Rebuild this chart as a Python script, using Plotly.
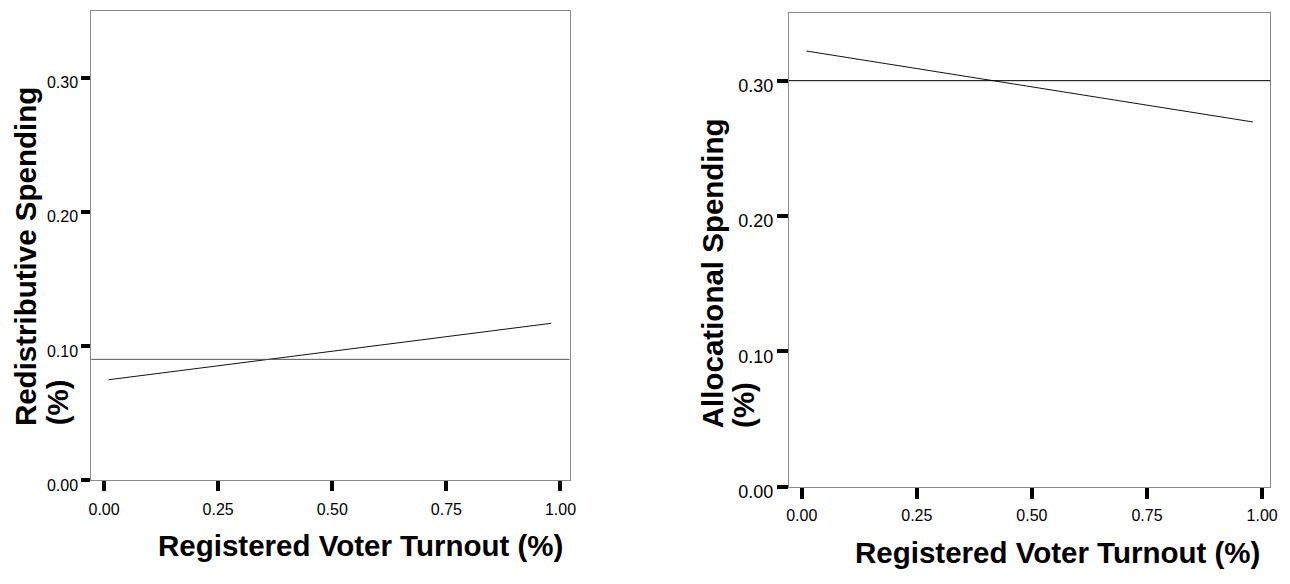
import plotly.graph_objects as go

W, H = 1290, 584

# ---- data ----
turnout = [0.01, 0.10, 0.20, 0.30, 0.40, 0.50, 0.60, 0.70, 0.80, 0.90, 0.98]
redistributive = [0.0748, 0.0787, 0.0830, 0.0874, 0.0917, 0.0961, 0.1004, 0.1047, 0.1091, 0.1134, 0.1169]
allocational = [0.3219, 0.3171, 0.3117, 0.3062, 0.3008, 0.2954, 0.2900, 0.2846, 0.2792, 0.2738, 0.2695]
redistributive_mean = 0.09
allocational_mean = 0.30
x_ticks = [0.0, 0.25, 0.5, 0.75, 1.0]
x_tick_labels = ["0.00", "0.25", "0.50", "0.75", "1.00"]
y_ticks = [0.0, 0.1, 0.2, 0.3]
y_tick_labels = ["0.00", "0.10", "0.20", "0.30"]
x_title = "Registered Voter Turnout (%)"
y_title_left = ["Redistributive Spending", "(%)"]
y_title_right = ["Allocational Spending", "(%)"]

FONT = "Arial, 'Liberation Sans', sans-serif"

def px_x(p):
    return p / W

def px_y(p):
    return 1 - p / H

fig = go.Figure()

fig.add_trace(go.Scatter(x=turnout, y=redistributive, mode="lines",
                         line=dict(color="#111111", width=1), xaxis="x", yaxis="y",
                         showlegend=False, hoverinfo="skip"))
fig.add_trace(go.Scatter(x=turnout, y=allocational, mode="lines",
                         line=dict(color="#111111", width=1), xaxis="x2", yaxis="y2",
                         showlegend=False, hoverinfo="skip"))

common_x = dict(tickvals=x_ticks, ticktext=x_tick_labels, ticks="outside", tickwidth=4,
                tickcolor="black", showline=True, linecolor="#8a8a8a", linewidth=1,
                mirror=True, showgrid=False, zeroline=False,
                tickfont=dict(family=FONT, size=16, color="black"))
common_y = dict(tickvals=y_ticks, ticktext=y_tick_labels, ticks="outside", tickwidth=4,
                tickcolor="black", showline=True, linecolor="#8a8a8a", linewidth=1,
                mirror=True, showgrid=False, zeroline=False, ticklabelshift=5)

fig.update_layout(
    width=W, height=H, margin=dict(l=0, r=0, t=0, b=0),
    paper_bgcolor="white", plot_bgcolor="white", showlegend=False,
    xaxis=dict(domain=[px_x(89), px_x(571)], range=[-0.028, 1.02], anchor="y",
               ticklen=10, ticklabelstandoff=5, **common_x),
    yaxis=dict(domain=[px_y(492.7), px_y(11)], range=[0, 0.35], anchor="x",
               ticklen=9, ticklabelstandoff=0,
               tickfont=dict(family=FONT, size=16, color="black"), **common_y),
    xaxis2=dict(domain=[px_x(792), px_x(1277.3)], range=[-0.028, 1.018], anchor="y2",
                ticklen=11, ticklabelstandoff=3, **common_x),
    yaxis2=dict(domain=[px_y(499.7), px_y(13.3)], range=[0, 0.35], anchor="x2",
                ticklen=11, ticklabelstandoff=0,
                tickfont=dict(family=FONT, size=18, color="black"), **common_y),
)

fig.add_shape(type="line", xref="x domain", yref="y", x0=0, x1=1,
              y0=redistributive_mean, y1=redistributive_mean,
              line=dict(color="#555555", width=1))
fig.add_shape(type="line", xref="x2 domain", yref="y2", x0=0, x1=1,
              y0=allocational_mean, y1=allocational_mean,
              line=dict(color="black", width=1))

title_font = dict(family=FONT, size=29.5, color="black")

def ann(text, x, y, xanchor, yanchor, angle=0):
    fig.add_annotation(text="<b>" + text + "</b>", xref="paper", yref="paper",
                       x=px_x(x), y=px_y(y), xanchor=xanchor, yanchor=yanchor,
                       textangle=angle, showarrow=False, font=title_font,
                       borderpad=0, borderwidth=0)

# x-axis titles
ann(x_title, 360, 560, "center", "middle")
ann(x_title, 1063, 567, "center", "middle")
# y-axis titles (two left-aligned lines each)
ann(y_title_left[0], 22, 437, "center", "bottom", -90)
ann(y_title_left[1], 55, 437, "center", "bottom", -90)
ann(y_title_right[0], 715, 439, "center", "bottom", -90)
ann(y_title_right[1], 747, 439, "center", "bottom", -90)

fig.write_html("out.html")
